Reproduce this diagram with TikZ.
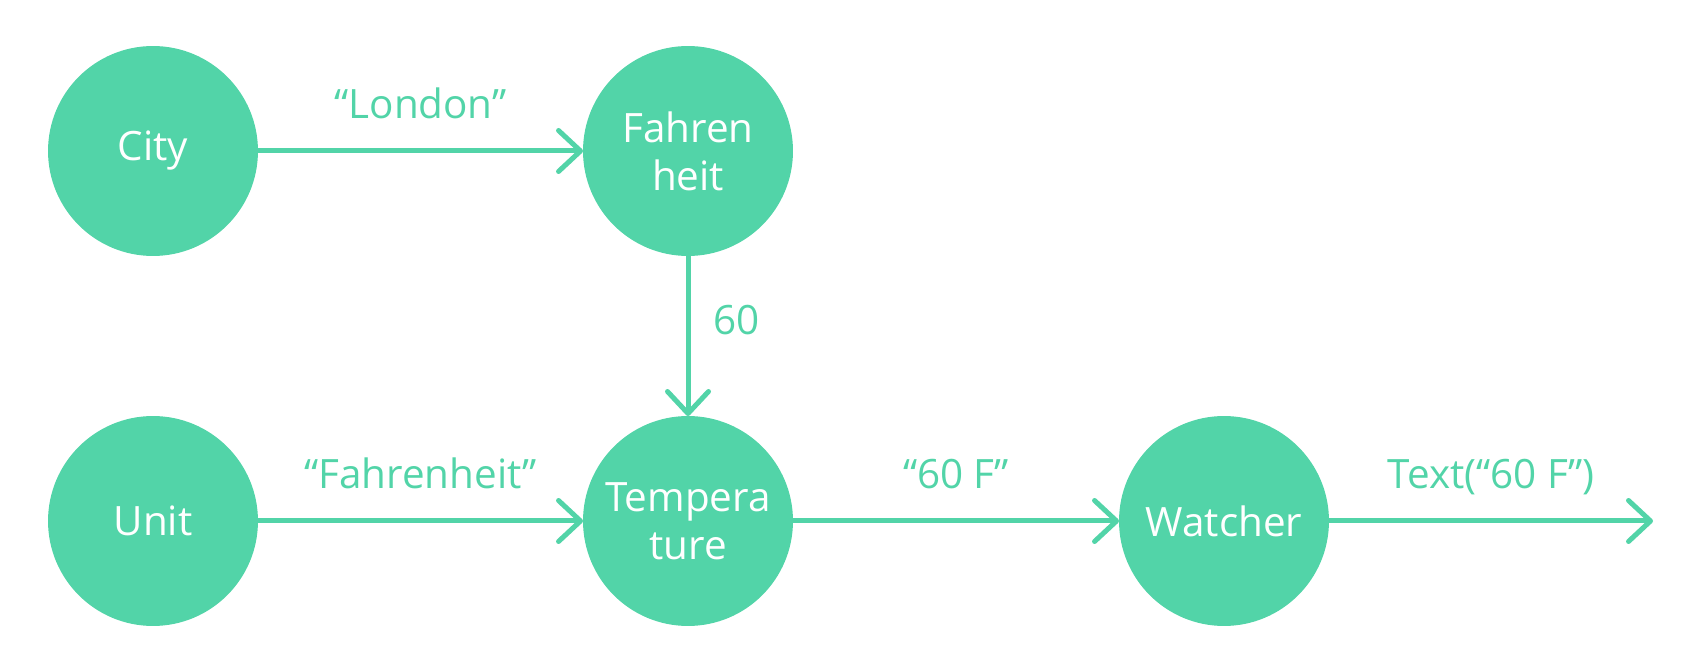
\documentclass[tikz,border=0pt]{standalone}
\usepackage{fontspec}
\setmainfont{Open Sans}
\usetikzlibrary{arrows.meta}
\definecolor{mint}{HTML}{52D4A8}

\begin{document}
\begin{tikzpicture}
  [x=0.02cm,y=-0.02cm,
   every node/.style={font=\fontsize{23}{27.3}\selectfont},
   state/.style={circle,fill=mint,text=white,minimum size=4.2cm,inner sep=0pt,outer sep=0pt,align=center},
   lbl/.style={text=mint,inner sep=0pt},
   flow/.style={draw=mint,line width=0.1cm,line cap=round,line join=round,
     -{Straight Barb[length=0.44cm,width=0.82cm,line cap=round,line join=round]}}]
  \useasboundingbox (0,0) rectangle (1700,671);
  \node[state] (city) at (153,151) {City};
  \node[state] (fahr) at (688,151) {Fahren\\heit};
  \node[state] (unit) at (153,521) {Unit};
  \node[state] (temp) at (688,521) {Tempera\\ture};
  \node[state] (watch) at (1224,521) {Watcher};
  \coordinate (out) at (1653,521);

  \foreach \from/\to/\txt in {city/fahr/{“London”}, unit/temp/{“Fahrenheit”},
      temp/watch/{“60 F”}, watch/out/{Text(“60 F”)}}
    \draw[flow] (\from) -- node[lbl,anchor=base,yshift=0.65cm] {\txt} (\to);
  \draw[flow] (fahr) -- node[lbl,anchor=west,pos=0.4,xshift=0.45cm] {60} (temp);
\end{tikzpicture}
\end{document}
